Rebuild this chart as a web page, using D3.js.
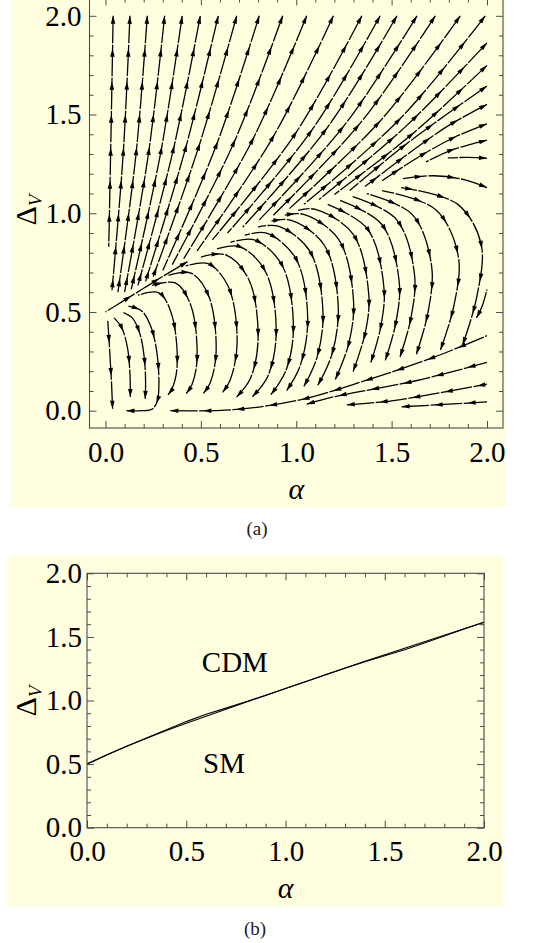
<!DOCTYPE html>
<html>
<head>
<meta charset="utf-8">
<script src="https://cdn.jsdelivr.net/npm/d3@7"></script>
<style>
  body { margin: 0; background: #ffffff; }
  svg { display: block; }
  text { font-family: "Liberation Serif", "Times New Roman", serif; }
</style>
</head>
<body>
<svg id="chart" width="541" height="943"></svg>
<script>
// ---------------- DATA ----------------
// tick values
const alphaMajor = [0, 0.5, 1, 1.5, 2];
const deltaMajor = [0, 0.5, 1, 1.5, 2];
const minorTicks = [0.1, 0.2, 0.3, 0.4, 0.6, 0.7, 0.8, 0.9, 1.1, 1.2, 1.3, 1.4, 1.6, 1.7, 1.8, 1.9];

// Panel (a): stream lines, points as [alpha, Delta_V] in flow order
const separatrix = [[0.0, 0.5], [0.1, 0.56], [0.2, 0.62], [0.3, 0.68], [0.43, 0.755]];

const fanLines = [
  [[0.017, 0.83], [0.029, 1.415], [0.040, 2.0]],
  [[0.034, 0.61], [0.093, 1.305], [0.128, 2.0]],
  [[0.065, 0.60], [0.16, 1.30], [0.219, 2.0]],
  [[0.10, 0.60], [0.225, 1.30], [0.310, 2.0]],
  [[0.135, 0.615], [0.29, 1.31], [0.402, 2.0]],
  [[0.17, 0.635], [0.355, 1.32], [0.497, 2.0]],
  [[0.21, 0.655], [0.42, 1.33], [0.591, 2.0]],
  [[0.25, 0.68], [0.49, 1.34], [0.688, 2.0]],
  [[0.30, 0.71], [0.581, 1.344], [0.806, 2.0]],
  [[0.35, 0.74], [0.672, 1.355], [0.929, 2.0]],
  [[0.41, 0.77], [0.768, 1.366], [1.055, 2.0]],
  [[0.48, 0.81], [0.876, 1.382], [1.195, 2.0]],
  [[0.56, 0.865], [0.993, 1.40], [1.344, 2.0]],
  [[0.64, 0.90], [1.081, 1.42], [1.44, 2.0]],
  [[0.72, 0.93], [1.164, 1.435], [1.528, 2.0]],
  [[0.80, 0.96], [1.256, 1.45], [1.633, 2.0]],
  [[0.88, 0.99], [1.343, 1.465], [1.729, 2.0]],
  [[0.96, 1.02], [1.447, 1.475], [1.86, 2.0]],
  [[1.04, 1.045], [1.551, 1.485], [1.991, 2.0]]
];

const edgeLines = [
  [[1.12, 1.07], [1.58, 1.445], [2.0, 1.863]],
  [[1.20, 1.095], [1.613, 1.405], [2.0, 1.749]],
  [[1.28, 1.115], [1.55, 1.33], [1.78, 1.495], [2.0, 1.644]],
  [[1.36, 1.135], [1.60, 1.31], [1.80, 1.445], [2.0, 1.551]],
  [[1.45, 1.165], [1.65, 1.29], [1.83, 1.385], [2.0, 1.453]],
  [[1.68, 1.26], [1.80, 1.315], [1.90, 1.345], [2.0, 1.37]],
  [[1.795, 1.28], [1.9, 1.283], [2.0, 1.278]]
];

const loopLines = [
  [[0.012, 0.455], [0.022, 0.30], [0.031, 0.15], [0.037, 0.01]],
  [[0.045, 0.47], [0.085, 0.42], [0.115, 0.32], [0.128, 0.19], [0.13, 0.07]],
  [[0.085, 0.50], [0.14, 0.47], [0.18, 0.39], [0.203, 0.27], [0.21, 0.15], [0.208, 0.06]],
  [[0.12, 0.53], [0.19, 0.505], [0.24, 0.42], [0.27, 0.29], [0.28, 0.15], [0.272, 0.05], [0.245, 0.008], [0.19, 0.0], [0.11, 0.0]],
  [[0.17, 0.585], [0.28, 0.597], [0.347, 0.487], [0.375, 0.22], [0.347, 0.107], [0.3275, 0.081]],
  [[0.245, 0.635], [0.366, 0.647], [0.447, 0.534], [0.48, 0.26], [0.453, 0.131], [0.423, 0.087]],
  [[0.33, 0.685], [0.448, 0.697], [0.541, 0.581], [0.58, 0.30], [0.549, 0.142], [0.514, 0.088]],
  [[0.42, 0.733], [0.538, 0.745], [0.645, 0.626], [0.69, 0.34], [0.654, 0.157], [0.614, 0.093]],
  [[0.50, 0.778], [0.628, 0.79], [0.75, 0.667], [0.80, 0.37], [0.76, 0.164], [0.687, 0.069]],
  [[0.58, 0.818], [0.705, 0.83], [0.839, 0.704], [0.895, 0.40], [0.851, 0.175], [0.77, 0.071]],
  [[0.655, 0.853], [0.78, 0.865], [0.925, 0.738], [0.985, 0.43], [0.948, 0.209], [0.867, 0.081]],
  [[0.73, 0.888], [0.84, 0.90], [0.996, 0.774], [1.06, 0.47], [1.02, 0.226], [0.95, 0.102]],
  [[0.80, 0.93], [0.905, 0.935], [1.071, 0.808], [1.14, 0.50], [1.109, 0.27], [1.04, 0.123]],
  [[0.87, 0.96], [0.97, 0.965], [1.147, 0.838], [1.22, 0.53], [1.187, 0.285], [1.113, 0.129]],
  [[0.94, 0.99], [1.035, 0.995], [1.222, 0.868], [1.30, 0.56], [1.275, 0.338], [1.205, 0.158]],
  [[1.01, 1.015], [1.10, 1.02], [1.298, 0.894], [1.38, 0.59], [1.363, 0.40], [1.298, 0.198]],
  [[1.165, 1.045], [1.374, 0.92], [1.46, 0.62], [1.442, 0.42], [1.391, 0.244]],
  [[1.23, 1.065], [1.449, 0.943], [1.54, 0.65], [1.521, 0.44], [1.467, 0.255]],
  [[1.295, 1.085], [1.525, 0.969], [1.62, 0.69], [1.601, 0.468], [1.544, 0.272]],
  [[1.37, 1.10], [1.61, 0.992], [1.71, 0.73], [1.69, 0.494], [1.63, 0.286]],
  [[1.45, 1.115], [1.733, 1.017], [1.85, 0.78], [1.826, 0.529], [1.756, 0.307]],
  [[1.55, 1.13], [1.847, 1.045], [1.97, 0.84], [1.945, 0.57], [1.872, 0.332]],
  [[1.56, 1.175], [1.72, 1.19], [1.88, 1.17], [2.0, 1.13]]
];

const bottomLines = [
  [[2.0, 0.045], [1.8, 0.033], [1.553, 0.02]],
  [[2.0, 0.135], [1.75, 0.09], [1.5, 0.05], [1.265, 0.03]],
  [[2.0, 0.245], [1.633, 0.153], [1.195, 0.07], [1.055, 0.033]],
  [[2.0, 0.38], [1.72, 0.27], [1.37, 0.155], [1.02, 0.055], [0.67, 0.005], [0.34, 0.0]],
  [[2.0, 0.614], [1.975, 0.53], [1.945, 0.47]]
];

// Panel (b): boundary curves
const boundaryAlpha = [0, 0.1, 0.2, 0.3, 0.4, 0.5, 0.6, 0.7, 0.8, 0.9, 1.0, 1.1, 1.2, 1.3, 1.4, 1.5, 1.6, 1.7, 1.8, 1.9, 2.0];
const boundaryCDM = [0.5, 0.572, 0.64, 0.703, 0.764, 0.822, 0.877, 0.932, 0.986, 1.04, 1.094, 1.148, 1.202, 1.256, 1.308, 1.36, 1.411, 1.462, 1.513, 1.564, 1.615];
const boundarySM  = [0.5, 0.574, 0.641, 0.705, 0.77, 0.834, 0.892, 0.94, 0.99, 1.042, 1.095, 1.148, 1.201, 1.254, 1.304, 1.352, 1.399, 1.452, 1.507, 1.562, 1.615];
const regionNames = ["CDM", "SM"];
const regionAlpha = [0.745, 0.69];
const regionDelta = [1.30, 0.51];

// ---------------- DRAWING ----------------
const svg = d3.select("#chart");
const BG = "#FFFFE0";
const FRAME = "#4a4a4a";
const FONT = "Liberation Serif";

svg.append("rect").attr("x", 11).attr("y", 0).attr("width", 495).attr("height", 507).attr("fill", BG);
svg.append("rect").attr("x", 8).attr("y", 555).attr("width", 495).attr("height", 351).attr("fill", BG);

function drawAxes(g, x, y, box, padLeft, padBottom) {
  const fmt = d3.format(".1f");
  const styleAxis = sel => {
    sel.select(".domain").remove();
    sel.attr("color", FRAME).attr("font-family", FONT).attr("font-size", 29);
    sel.selectAll("text").attr("fill", "#000").attr("font-family", FONT);
  };
  g.append("g").attr("transform", `translate(0,${box.bottom})`)
    .call(d3.axisBottom(x).tickValues(alphaMajor).tickSize(-7).tickPadding(padBottom).tickFormat(fmt)).call(styleAxis);
  g.append("g").attr("transform", `translate(0,${box.bottom})`)
    .call(d3.axisBottom(x).tickValues(minorTicks).tickSize(-4).tickFormat("")).call(styleAxis);
  g.append("g").attr("transform", `translate(0,${box.top})`)
    .call(d3.axisTop(x).tickValues(alphaMajor).tickSize(-7).tickFormat("")).call(styleAxis);
  g.append("g").attr("transform", `translate(0,${box.top})`)
    .call(d3.axisTop(x).tickValues(minorTicks).tickSize(-4).tickFormat("")).call(styleAxis);
  g.append("g").attr("transform", `translate(${box.left},0)`)
    .call(d3.axisLeft(y).tickValues(deltaMajor).tickSize(-7).tickPadding(padLeft).tickFormat(fmt)).call(styleAxis);
  g.append("g").attr("transform", `translate(${box.left},0)`)
    .call(d3.axisLeft(y).tickValues(minorTicks).tickSize(-4).tickFormat("")).call(styleAxis);
  g.append("g").attr("transform", `translate(${box.right},0)`)
    .call(d3.axisRight(y).tickValues(deltaMajor).tickSize(-7).tickFormat("")).call(styleAxis);
  g.append("g").attr("transform", `translate(${box.right},0)`)
    .call(d3.axisRight(y).tickValues(minorTicks).tickSize(-4).tickFormat("")).call(styleAxis);
  g.append("rect").attr("x", box.left).attr("y", box.top)
    .attr("width", box.right - box.left).attr("height", box.bottom - box.top)
    .attr("fill", "none").attr("stroke", FRAME).attr("stroke-width", 1.1);
}

function yLabel(x, yc) {
  const t = svg.append("text").attr("transform", `translate(${x},${yc}) rotate(-90)`)
    .attr("text-anchor", "middle").attr("font-size", 30).attr("font-family", FONT).attr("fill", "#000");
  t.append("tspan").text("Δ");
  t.append("tspan").attr("font-size", 19).attr("font-style", "italic").attr("dy", 6).text("V");
}

// ---- Panel (a) ----
const boxA = { left: 89.5, right: 503, top: -1.5, bottom: 428 };
const xa = d3.scaleLinear().domain([-0.084, 2.084]).range([boxA.left, boxA.right]);
const ya = d3.scaleLinear().domain([-0.0876, 2.0876]).range([boxA.bottom, boxA.top]);

svg.append("defs").append("clipPath").attr("id", "clipA").append("rect")
  .attr("x", boxA.left).attr("y", boxA.top).attr("width", boxA.right - boxA.left).attr("height", boxA.bottom - boxA.top);

const streams = svg.append("g").attr("clip-path", "url(#clipA)");
const lineA = d3.line().x(d => xa(d[0])).y(d => ya(d[1])).curve(d3.curveCatmullRom.alpha(0.5));
const allStreams = [].concat(fanLines, edgeLines, [separatrix], loopLines, bottomLines);
const STEP = 33;
allStreams.forEach(pts => {
  const p = streams.append("path").attr("d", lineA(pts))
    .attr("fill", "none").attr("stroke", "#000").attr("stroke-width", 1.3);
  const node = p.node();
  const L = node.getTotalLength();
  const off = (((31.5 - (L - 29)) % STEP) + STEP) % STEP;
  p.attr("stroke-dasharray", "31.5,1.5").attr("stroke-dashoffset", off);
  for (let d = L; d > 9; d -= STEP) {
    const a = node.getPointAtLength(d);
    const b = node.getPointAtLength(Math.max(0, d - 4));
    const ang = Math.atan2(a.y - b.y, a.x - b.x) * 180 / Math.PI;
    streams.append("path").attr("d", "M0,0L-8,-2.3L-8,2.3Z")
      .attr("transform", `translate(${a.x},${a.y}) rotate(${ang})`).attr("fill", "#000");
  }
});

drawAxes(svg.append("g"), xa, ya, boxA, 8, 13);
svg.append("text").attr("x", (boxA.left + boxA.right) / 2).attr("y", 499).attr("text-anchor", "middle")
  .attr("font-size", 30).attr("font-style", "italic").attr("font-family", FONT).attr("fill", "#000").text("α");
yLabel(36, 210);
svg.append("text").attr("x", 257).attr("y", 535).attr("text-anchor", "middle")
  .attr("font-size", 19).attr("font-family", FONT).attr("fill", "#222").text("(a)");

// ---- Panel (b) ----
const boxB = { left: 87, right: 484, top: 573.3, bottom: 827.7 };
const xb = d3.scaleLinear().domain([0, 2]).range([boxB.left, boxB.right]);
const yb = d3.scaleLinear().domain([0, 2]).range([boxB.bottom, boxB.top]);
const lineB = d3.line().x((d, i) => xb(boundaryAlpha[i])).y(d => yb(d));
svg.append("path").attr("d", lineB(boundaryCDM)).attr("fill", "none").attr("stroke", "#000").attr("stroke-width", 1.1);
svg.append("path").attr("d", lineB(boundarySM)).attr("fill", "none").attr("stroke", "#000").attr("stroke-width", 1.1);
regionNames.forEach((name, i) => {
  svg.append("text").attr("x", xb(regionAlpha[i])).attr("y", yb(regionDelta[i]) + 10)
    .attr("text-anchor", "middle").attr("font-size", 29).attr("font-family", FONT).attr("fill", "#000").text(name);
});
drawAxes(svg.append("g"), xb, yb, boxB, 5, 12.5);
svg.append("text").attr("x", (boxB.left + boxB.right) / 2).attr("y", 898).attr("text-anchor", "middle")
  .attr("font-size", 30).attr("font-style", "italic").attr("font-family", FONT).attr("fill", "#000").text("α");
yLabel(36, 701);
svg.append("text").attr("x", 255).attr("y", 935).attr("text-anchor", "middle")
  .attr("font-size", 19).attr("font-family", FONT).attr("fill", "#222").text("(b)");
</script>
</body>
</html>
